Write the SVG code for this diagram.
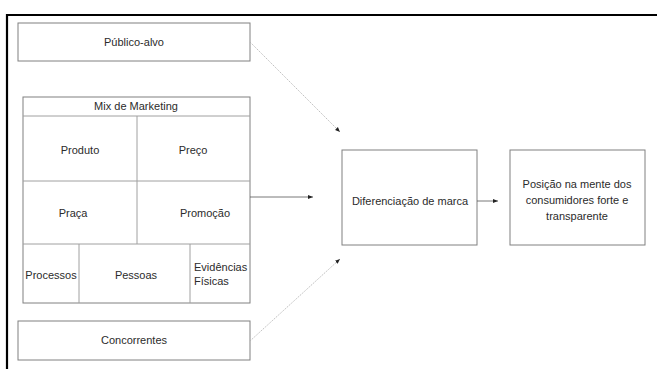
<svg xmlns="http://www.w3.org/2000/svg" width="657" height="369" viewBox="0 0 657 369">
<style>
.box{fill:#fff;stroke:#808080;stroke-width:1}
.div{stroke:#a0a0a0;stroke-width:1}
.t{font-family:"Liberation Sans",Arial,sans-serif;font-size:11px;fill:#2b2b2b;text-anchor:middle}
.l{text-anchor:start}
.dot{stroke:#b0b0b0;stroke-width:0.8;stroke-dasharray:1.5 1;fill:none}
.sol{stroke:#555;stroke-width:0.8;fill:none}
</style>
<defs>
<marker id="ah" markerWidth="6" markerHeight="6" refX="5" refY="3" orient="auto" markerUnits="userSpaceOnUse">
<path d="M0,1 L5,3 L0,5 Z" fill="#222"/>
</marker>
</defs>
<rect width="657" height="369" fill="#fff"/>
<path d="M7,369 V15 H657" fill="none" stroke="#000" stroke-width="2.2"/>
<g id="publico">
<rect class="box" x="18" y="23" width="232" height="38"/>
<text class="t" x="134" y="46">Público-alvo</text>
</g>
<g id="mix">
<rect class="box" x="23" y="97" width="227" height="206"/>
<line class="div" x1="23" y1="116" x2="250" y2="116"/>
<line class="div" x1="23" y1="181" x2="250" y2="181"/>
<line class="div" x1="23" y1="244" x2="250" y2="244"/>
<line class="div" x1="137" y1="116" x2="137" y2="244"/>
<line class="div" x1="79" y1="244" x2="79" y2="303"/>
<line class="div" x1="190" y1="244" x2="190" y2="303"/>
<text class="t" x="136" y="110">Mix de Marketing</text>
<text class="t" x="80" y="154">Produto</text>
<text class="t" x="193" y="154">Preço</text>
<text class="t" x="73" y="217">Praça</text>
<text class="t" x="205" y="217">Promoção</text>
<text class="t" x="51" y="279">Processos</text>
<text class="t" x="136" y="279">Pessoas</text>
<text class="t l" x="194" y="271">Evidências</text>
<text class="t l" x="194" y="285">Físicas</text>
</g>
<g id="concorrentes">
<rect class="box" x="18" y="321" width="232" height="39"/>
<text class="t" x="134" y="344">Concorrentes</text>
</g>
<g id="diferenciacao">
<rect class="box" x="342" y="150" width="135" height="95"/>
<text class="t" x="410" y="205">Diferenciação de marca</text>
</g>
<g id="posicao">
<rect class="box" x="510" y="150" width="135" height="95"/>
<text class="t" x="577" y="188">Posição na mente dos</text>
<text class="t" x="577" y="204">consumidores forte e</text>
<text class="t" x="577" y="220">transparente</text>
</g>
<g id="connectors">
<line class="dot" x1="250" y1="42" x2="340" y2="132" marker-end="url(#ah)"/>
<line class="sol" x1="250" y1="197" x2="313" y2="197" marker-end="url(#ah)"/>
<line class="dot" x1="250" y1="341" x2="340" y2="259" marker-end="url(#ah)"/>
<line class="sol" x1="477" y1="201" x2="498" y2="201" marker-end="url(#ah)"/>
</g>
</svg>
